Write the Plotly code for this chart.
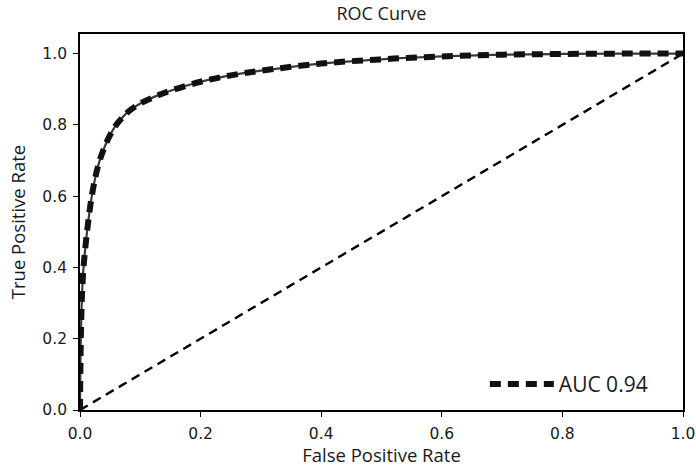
import plotly.graph_objects as go

# ROC curve points (false positive rate vs. true positive rate)
fpr = [0, 0.002, 0.005, 0.011, 0.02, 0.03, 0.04, 0.05, 0.06, 0.07, 0.08, 0.1, 0.125,
       0.15, 0.2, 0.25, 0.3, 0.4, 0.5, 0.6, 0.7, 0.8, 0.9, 1.0]
tpr = [0, 0.25, 0.38, 0.49, 0.605, 0.685, 0.735, 0.772, 0.8, 0.82, 0.837, 0.86, 0.88,
       0.896, 0.921, 0.939, 0.952, 0.972, 0.984, 0.992, 0.997, 0.999, 1.0, 1.0]
auc_label = "AUC 0.94"

# chance diagonal
chance_x = [0, 1]
chance_y = [0, 1]

tick_vals = [0.0, 0.2, 0.4, 0.6, 0.8, 1.0]
tick_text = ["0.0", "0.2", "0.4", "0.6", "0.8", "1.0"]

fig = go.Figure()

fig.add_trace(go.Scatter(
    x=chance_x, y=chance_y, mode="lines",
    line=dict(color="black", width=2.4, dash="9px,6px"),
    showlegend=False, hoverinfo="skip",
))

# thin dark core line with heavy black dash blocks over it
fig.add_trace(go.Scatter(
    x=fpr, y=tpr, mode="lines",
    line=dict(color="#3a3a3a", width=2.2, shape="spline", smoothing=1.0),
    name=auc_label, legendgroup="roc", showlegend=False, hoverinfo="skip",
))
fig.add_trace(go.Scatter(
    x=fpr, y=tpr, mode="lines",
    line=dict(color="#111111", width=6, dash="11px,7px", shape="spline", smoothing=1.0),
    name=auc_label, legendgroup="roc", showlegend=True,
))

axis_common = dict(
    showline=True, linecolor="black", linewidth=1.8, mirror=True,
    ticks="outside", ticklen=5, tickwidth=1.4, tickcolor="black",
    showgrid=False, zeroline=False, automargin=False,
    tickvals=tick_vals, ticktext=tick_text, ticklabelstandoff=3,
    tickfont=dict(family="DejaVu Sans", size=15.5, color="#1a1a1a"),
)

fig.update_xaxes(range=[0, 1.0], title=dict(text="False Positive Rate",
                 font=dict(family="Open Sans", size=18.5, color="#1a1a1a"), standoff=7),
                 **axis_common)
fig.update_yaxes(range=[0, 1.055], title=dict(text="True Positive Rate",
                 font=dict(family="Open Sans", size=18.5, color="#1a1a1a"), standoff=12),
                 **axis_common)

fig.update_layout(
    width=696, height=468,
    margin=dict(l=80, r=13, t=34, b=58),
    paper_bgcolor="white", plot_bgcolor="white",
    title=dict(text="ROC Curve", x=0.548, xanchor="center", y=0.985, yanchor="top",
               font=dict(family="Open Sans", size=18, color="#1a1a1a")),
    legend=dict(x=0.95, y=0.068, xanchor="right", yanchor="middle",
                bgcolor="rgba(0,0,0,0)", borderwidth=0, itemwidth=64,
                font=dict(family="Open Sans", size=21, color="#1a1a1a")),
    showlegend=True,
)

fig.write_html("out.html")
